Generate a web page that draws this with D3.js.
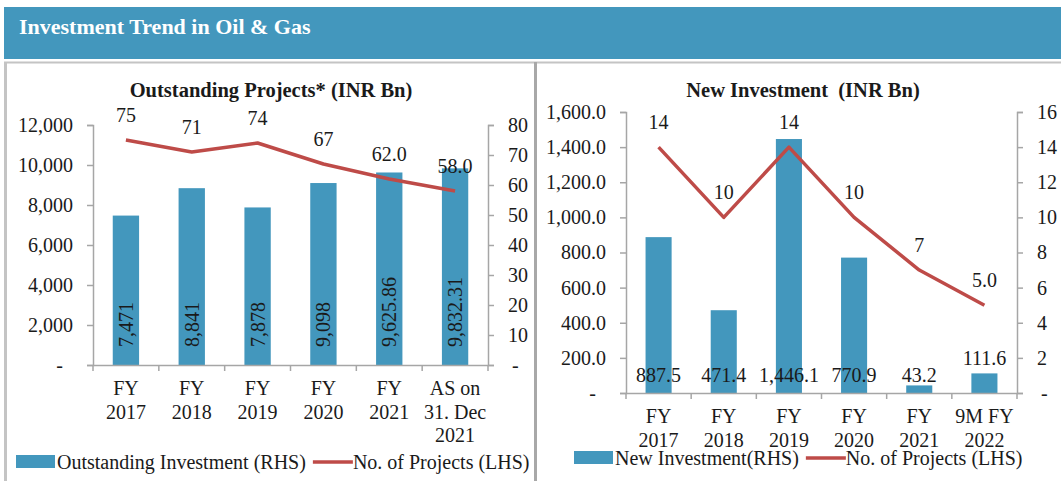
<!DOCTYPE html>
<html>
<head>
<meta charset="utf-8">
<script src="https://cdn.jsdelivr.net/npm/d3@7"></script>
<style>
  body { margin: 0; background: #fff; }
  text { font-family: "Liberation Serif", "Times New Roman", serif; fill: #1a1a1a; }
</style>
</head>
<body>
<div id="chart"></div>
<script>
// ── data ──
const outCategories = [["FY", "2017"], ["FY", "2018"], ["FY", "2019"], ["FY", "2020"], ["FY", "2021"], ["AS on", "31. Dec", "2021"]];
const outInvestment = [7471, 8841, 7878, 9098, 9625.86, 9832.31];
const outInvestmentLabels = ["7,471", "8,841", "7,878", "9,098", "9,625.86", "9,832.31"];
const outProjects = [75, 71, 74, 67, 62, 58];
const outProjectLabels = ["75", "71", "74", "67", "62.0", "58.0"];
const outLeftTicks = [0, 2000, 4000, 6000, 8000, 10000, 12000];
const outRightTicks = [0, 10, 20, 30, 40, 50, 60, 70, 80];

const newCategories = [["FY", "2017"], ["FY", "2018"], ["FY", "2019"], ["FY", "2020"], ["FY", "2021"], ["9M FY", "2022"]];
const newInvestment = [887.5, 471.4, 1446.1, 770.9, 43.2, 111.6];
const newProjects = [14, 10, 14, 10, 7, 5];
const newProjectLabels = ["14", "10", "14", "10", "7", "5.0"];
const newLeftTicks = [0, 200, 400, 600, 800, 1000, 1200, 1400, 1600];
const newRightTicks = [0, 2, 4, 6, 8, 10, 12, 14, 16];

const BLUE = "#4397bd", RED = "#be4b48", AXIS = "#a6a6a6";
const W = 1061, H = 481;

const svg = d3.select("#chart").append("svg")
  .attr("width", W).attr("height", H)
  .attr("viewBox", [0, 0, W, H]);

svg.append("rect").attr("width", W).attr("height", H).attr("fill", "#fff");

// header band
svg.append("rect").attr("x", 4).attr("y", 7).attr("width", W - 4).attr("height", 52).attr("fill", BLUE);
svg.append("text").attr("x", 19).attr("y", 34)
  .attr("font-size", "22px").attr("font-weight", "bold").style("fill", "#fff")
  .text("Investment Trend in Oil & Gas");

// panel frames
svg.append("line").attr("x1", 4).attr("x2", W).attr("y1", 62.5).attr("y2", 62.5).attr("stroke", "#c4c4c4").attr("stroke-width", 2);
svg.append("line").attr("x1", 5.5).attr("x2", 5.5).attr("y1", 62).attr("y2", H).attr("stroke", "#c4c4c4").attr("stroke-width", 3);
svg.append("line").attr("x1", 535.5).attr("x2", 535.5).attr("y1", 62).attr("y2", H).attr("stroke", "#a8a8a8").attr("stroke-width", 3);

function drawPanel(p) {
  const g = svg.append("g");
  const x = d3.scaleBand().domain(d3.range(p.cats.length)).range([p.x0, p.x1]).paddingInner(0.6).paddingOuter(0.3);
  const xb = d3.scaleBand().domain(d3.range(p.cats.length)).range([p.x0, p.x1]);
  const yL = d3.scaleLinear().domain([0, p.leftMax]).range([p.y0, p.y1]);
  const yR = d3.scaleLinear().domain([0, p.rightMax]).range([p.y0, p.y1]);

  // title
  g.append("text").attr("x", p.titleX).attr("y", 97).attr("text-anchor", "middle")
    .attr("font-size", "20.5px").attr("font-weight", "bold").attr("xml:space", "preserve").text(p.title);

  // bars
  g.append("g").selectAll("rect").data(p.bars).join("rect")
    .attr("x", (d, i) => x(i)).attr("width", x.bandwidth())
    .attr("y", d => yL(d)).attr("height", d => yL(0) - yL(d))
    .attr("fill", BLUE);

  // axes
  const left = g.append("g").attr("transform", `translate(${p.x0},0)`)
    .call(d3.axisLeft(yL).tickValues(p.leftTicks).tickSizeOuter(0).tickSize(6).tickPadding(14)
      .tickFormat(d => d === 0 ? "-" : p.leftFmt(d)));
  left.selectAll("text").filter(d => d === 0).attr("dx", -10);
  const right = g.append("g").attr("transform", `translate(${p.x1},0)`)
    .call(d3.axisRight(yR).tickValues(p.rightTicks).tickSizeOuter(0).tickSize(6).tickPadding(14)
      .tickFormat(d => d === 0 ? "-" : d));
  right.selectAll("text").filter(d => d === 0).attr("dx", 4);
  const bottom = g.append("g").attr("transform", `translate(0,${p.y0})`)
    .call(d3.axisBottom(xb).tickSize(0).tickFormat(""));
  bottom.selectAll(".tick").remove();
  bottom.selectAll("line.sep").data(d3.range(p.cats.length + 1)).join("line")
    .attr("class", "sep")
    .attr("x1", i => p.x0 + i * xb.step()).attr("x2", i => p.x0 + i * xb.step())
    .attr("y1", 0).attr("y2", 6);
  [left, right, bottom].forEach(a => {
    a.select(".domain").attr("stroke", AXIS).attr("stroke-width", 1.5);
    a.selectAll("line").attr("stroke", AXIS).attr("stroke-width", 1.5);
    a.selectAll("text").attr("font-size", "20px").attr("font-family", "'Liberation Serif', serif").attr("fill", "#1a1a1a");
  });

  // category labels
  g.append("g").selectAll("text").data(p.cats).join("text")
    .attr("x", (d, i) => xb(i) + xb.bandwidth() / 2)
    .attr("y", p.y0 + 30)
    .attr("text-anchor", "middle").attr("font-size", "20px")
    .selectAll("tspan").data(d => d).join("tspan")
    .attr("x", function () { return this.parentNode.getAttribute("x"); })
    .attr("dy", (d, i) => i === 0 ? 0 : 23.5)
    .text(d => d);

  // line
  g.append("path").datum(p.line)
    .attr("fill", "none").attr("stroke", RED).attr("stroke-width", 3.5).attr("stroke-linejoin", "round")
    .attr("d", d3.line().x((d, i) => xb(i) + xb.bandwidth() / 2).y(d => yR(d)));

  g.append("g").selectAll("text").data(p.line).join("text")
    .attr("x", (d, i) => xb(i) + xb.bandwidth() / 2)
    .attr("y", d => yR(d) - 18)
    .attr("text-anchor", "middle").attr("font-size", "20px")
    .text((d, i) => p.lineLabels[i]);

  // bar labels
  if (p.rotated) {
    g.append("g").selectAll("text").data(p.bars).join("text")
      .attr("transform", (d, i) => `translate(${x(i) + x.bandwidth() / 2},${p.y0 - 18}) rotate(-90)`)
      .attr("dy", "0.35em").attr("font-size", "20px")
      .text((d, i) => p.barLabels[i]);
  } else {
    g.append("g").selectAll("text").data(p.bars).join("text")
      .attr("x", (d, i) => x(i) + x.bandwidth() / 2)
      .attr("y", d => {
        const h = yL(0) - yL(d);
        return (h > 15 && h < 30) ? yL(d) - 8 : p.y0 - 11;
      })
      .attr("text-anchor", "middle").attr("font-size", "20px")
      .text(d => d3.format(",.1f")(d));
  }

  // legend
  const lg = g.append("g").attr("transform", `translate(0,${p.legendY})`);
  lg.append("rect").attr("x", p.legendX).attr("y", -7).attr("width", 39).attr("height", 13).attr("fill", BLUE);
  const t1 = lg.append("text").attr("x", p.legendX + 41).attr("y", 7).attr("font-size", "20px").text(p.barName);
  const l1 = t1.node().getComputedTextLength();
  const lx = p.legendX + 41 + l1 + 7;
  lg.append("line").attr("x1", lx).attr("x2", lx + 40).attr("y1", 0).attr("y2", 0).attr("stroke", RED).attr("stroke-width", 3.5);
  lg.append("text").attr("x", lx + 40).attr("y", 7).attr("font-size", "20px").text("No. of Projects (LHS)");
}

drawPanel({
  title: "Outstanding Projects* (INR Bn)", titleX: 271,
  cats: outCategories, bars: outInvestment, barLabels: outInvestmentLabels, rotated: true,
  line: outProjects, lineLabels: outProjectLabels,
  leftMax: 12000, rightMax: 80, leftTicks: outLeftTicks, rightTicks: outRightTicks,
  leftFmt: d3.format(","),
  x0: 93, x1: 488, y0: 365, y1: 125,
  barName: "Outstanding Investment (RHS)", legendX: 16, legendY: 462
});

drawPanel({
  title: "New Investment  (INR Bn)", titleX: 803,
  cats: newCategories, bars: newInvestment, rotated: false,
  line: newProjects, lineLabels: newProjectLabels,
  leftMax: 1600, rightMax: 16, leftTicks: newLeftTicks, rightTicks: newRightTicks,
  leftFmt: d3.format(",.1f"),
  x0: 626, x1: 1017, y0: 393, y1: 112,
  barName: "New Investment(RHS)", legendX: 574, legendY: 458
});
</script>
</body>
</html>
